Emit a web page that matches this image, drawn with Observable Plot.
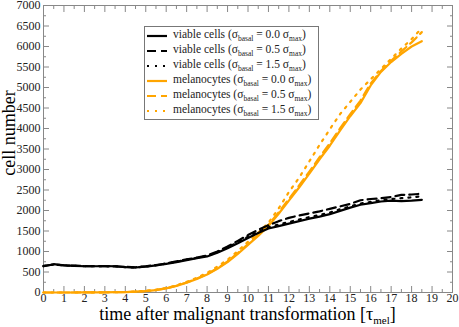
<!DOCTYPE html>
<html><head><meta charset="utf-8">
<script src="https://cdn.jsdelivr.net/npm/d3@7"></script>
<script src="https://cdn.jsdelivr.net/npm/@observablehq/plot@0.6"></script>
<style>
body{margin:0;background:#fff;font-family:"Liberation Serif","Times New Roman","DejaVu Serif",serif;}
#wrap{position:relative;width:459px;height:327px;}
#wrap svg text{font-family:"Liberation Serif","Times New Roman",serif;}
#legend{position:absolute;left:144px;top:26px;width:173px;height:92px;border:1px solid #777;background:#fff;font-size:11.5px;color:#222;}
.row{position:absolute;left:0;height:15px;white-space:nowrap;}
.row svg{position:absolute;left:2px;top:3px;}
.row span{position:absolute;left:28px;top:0;}
sub{font-size:7.5px;vertical-align:-3px;line-height:0;}
#xl{position:absolute;left:0;width:459px;text-align:center;top:306px;font-size:18px;line-height:17px;padding-left:43px;padding-right:7px;box-sizing:border-box;}
#xl sub{font-size:11px;vertical-align:-4px;}
#yl{position:absolute;left:-41px;top:124px;font-size:18px;line-height:18px;transform:rotate(-90deg);width:100px;text-align:center;}
</style></head><body>
<div id="wrap"></div>
<script>
const time = d3.range(0, 18.51, 0.5);
const viable00 = [640,690,660,650,640,640,645,640,620,610,630,660,700,740,790,840,880,970,1080,1200,1330,1450,1560,1620,1680,1740,1800,1850,1910,1990,2070,2140,2180,2220,2240,2230,2240,2260];
const viable05 = [650,680,665,655,645,640,640,635,625,615,640,670,710,760,810,850,900,1000,1120,1260,1400,1530,1640,1740,1820,1880,1930,1980,2040,2100,2160,2250,2280,2300,2330,2380,2390,2410];
const viable15 = [645,685,660,650,640,645,640,640,620,610,635,665,705,750,800,845,890,985,1100,1220,1360,1480,1590,1660,1720,1780,1840,1890,1950,2030,2100,2170,2210,2250,2280,2300,2320,2350];
const mel00 = [0,0,0,0,2,3,5,7,10,20,35,60,100,160,240,330,440,580,740,940,1160,1380,1620,1920,2240,2560,2900,3250,3580,3950,4300,4620,5050,5380,5620,5820,6000,6130];
const mel05 = [0,0,0,0,2,3,5,7,10,20,36,62,102,165,245,340,450,590,760,960,1180,1410,1650,1960,2280,2610,2950,3300,3640,4000,4350,4680,5100,5400,5650,5880,6100,6350];
const mel15 = [0,0,0,0,2,3,5,7,12,22,40,68,110,175,260,360,480,630,800,1010,1240,1460,1700,2050,2450,2800,3200,3600,3980,4350,4650,4950,5200,5450,5700,5950,6180,6450];
const seriesNames = ["viable cells","viable cells","viable cells","melanocytes","melanocytes","melanocytes"];
const sigmaLabels = ["0.0","0.5","1.5","0.0","0.5","1.5"];
const seriesData = [viable00, viable05, viable15, mel00, mel05, mel15];
const colors = ["#000","#000","#000","orange","orange","orange"];
const dashes = ["none","9,5","2,6","none","9,5","2,6"];
const xTicks = d3.range(0, 21, 1);
const xMinor = d3.range(0.5, 20, 1);
const yTicks = d3.range(0, 7001, 500);
const yMinor = d3.range(250, 7000, 500);

const rows = [];
seriesData.forEach((arr, s) => arr.forEach((v, i) => rows.push({t: time[i], v, s})));

const fmt = d => String(d);
const none = () => "";
const ff = "'Liberation Serif', 'Times New Roman', serif";
const marks = [
  Plot.frame({stroke: "#888"}),
  Plot.axisX(xTicks, {anchor: "bottom", tickSize: -6, tickPadding: 7, tickFormat: fmt, label: null, stroke: "#888", fill: "#222", fontSize: 12, fontFamily: ff}),
  Plot.axisX(xMinor, {anchor: "bottom", tickSize: -3, tickFormat: none, label: null, stroke: "#888"}),
  Plot.axisX(xTicks, {anchor: "top", tickSize: -6, tickFormat: none, label: null, stroke: "#888"}),
  Plot.axisX(xMinor, {anchor: "top", tickSize: -3, tickFormat: none, label: null, stroke: "#888"}),
  Plot.axisY(yTicks, {anchor: "left", tickSize: -6, tickPadding: 9, tickFormat: fmt, label: null, stroke: "#888", fill: "#222", fontSize: 12, fontFamily: ff}),
  Plot.axisY(yMinor, {anchor: "left", tickSize: -3, tickFormat: none, label: null, stroke: "#888"}),
  Plot.axisY(yTicks, {anchor: "right", tickSize: -6, tickFormat: none, label: null, stroke: "#888"}),
  Plot.axisY(yMinor, {anchor: "right", tickSize: -3, tickFormat: none, label: null, stroke: "#888"})
];
[5,4,3,2,1,0].forEach(s => {
  marks.push(Plot.line(rows.filter(d => d.s === s), {x: "t", y: "v", stroke: colors[s], strokeWidth: 2.2, strokeDasharray: dashes[s] === "none" ? null : dashes[s]}));
});

const chart = Plot.plot({
  width: 459, height: 327,
  marginLeft: 43, marginRight: 7, marginTop: 5, marginBottom: 35,
  style: {fontFamily: ff, fontSize: "12px", color: "#222", background: "#fff"},
  x: {domain: [0, 20]},
  y: {domain: [0, 7000]},
  marks
});
const wrap = document.getElementById("wrap");
wrap.appendChild(chart);

const leg = document.createElement("div");
leg.id = "legend";
seriesNames.forEach((n, s) => {
  const r = document.createElement("div");
  r.className = "row";
  r.style.top = (1 + s * 15) + "px";
  r.innerHTML = `<svg width="22" height="10"><line x1="0" x2="20" y1="5" y2="5" stroke="${colors[s]}" stroke-width="2.2" ${dashes[s]==="none"?"":`stroke-dasharray="${dashes[s]}"`}/></svg><span>${n} (σ<sub>basal</sub> = ${sigmaLabels[s]} σ<sub>max</sub>)</span>`;
  leg.appendChild(r);
});
wrap.appendChild(leg);
const xl = document.createElement("div");
xl.id = "xl";
xl.innerHTML = "time after malignant transformation [τ<sub>mel</sub>]";
wrap.appendChild(xl);
const yl = document.createElement("div");
yl.id = "yl";
yl.textContent = "cell number";
wrap.appendChild(yl);
</script>
</body></html>
